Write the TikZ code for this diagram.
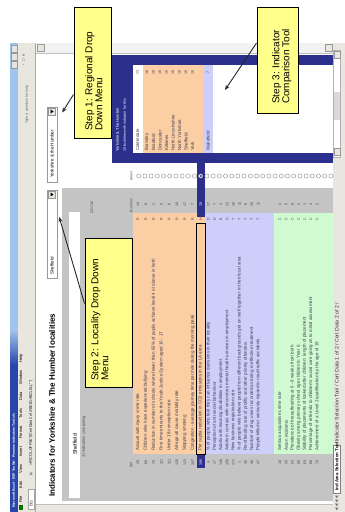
\documentclass[tikz,border=0pt]{standalone}
\usepackage{fontspec}
\setmainfont{Liberation Sans}
\usetikzlibrary{arrows.meta}
\definecolor{navy}{RGB}{44,48,140}
\definecolor{peach}{RGB}{252,206,164}
\definecolor{lav}{RGB}{206,206,250}
\definecolor{mint}{RGB}{208,250,208}
\definecolor{panelgray}{RGB}{196,196,196}
\definecolor{sticky}{RGB}{255,255,140}
\definecolor{uigray}{RGB}{232,230,222}
\definecolor{xltext}{RGB}{60,60,80}
\definecolor{titledark}{RGB}{40,70,170}
\definecolor{titlelight}{RGB}{160,195,235}
\begin{document}
\begin{tikzpicture}[x=1pt,y=-1pt,
  rt/.style={rotate=90,anchor=west,inner sep=0pt,text=xltext,font=\fontsize{4.5}{5}\selectfont},
  tiny/.style={rt,font=\fontsize{3.6}{4}\selectfont},
  stickybox/.style={draw=black,line width=1pt,fill=sticky,inner sep=0pt},
  stickytext/.style={rotate=90,anchor=north west,inner sep=0pt,align=left,font=\fontsize{10}{10}\selectfont},
  pointer/.style={draw=black!85,line width=0.9pt,-{Stealth[length=5pt,width=4pt]}},
  dropbox/.style={draw=black!40,fill=white,inner sep=0pt},
  btn/.style={draw=black!40,fill=uigray,inner sep=0pt,minimum width=7pt,minimum height=7pt},
]
\useasboundingbox (0,0) rectangle (345,512);
\fill[white] (0,0) rectangle (345,512);

% ---------- window chrome ----------
\fill[uigray] (10,43) rectangle (36,512);
\fill[titlelight] (10,43) rectangle (17.5,330);
\shade[top color=titlelight,bottom color=titledark] (10,330) rectangle (17.5,365);
\fill[titledark] (10,365) rectangle (17.5,512);
\foreach \yy [count=\i] in {49,57,65}
  \node[btn,minimum width=6pt,minimum height=7pt,fill=black!10] (wb\i) at (13.7,\yy) {};
\node[tiny,text=white,font=\bfseries\fontsize{3.4}{4}\selectfont] (ttl) at (13.7,508) {Microsoft Excel - ESP Toolkit - Pennine Indicators Tool.xls};
\fill[green!45!black] (18.5,505) rectangle (23,510);
\node[rt,text=black,font=\fontsize{4}{4}\selectfont] (menu) at (21,503)
  {File\hspace{8pt}Edit\hspace{8pt}View\hspace{8pt}Insert\hspace{8pt}Format\hspace{8pt}Tools\hspace{8pt}Data\hspace{8pt}Window\hspace{8pt}Help};
\node[tiny,text=black!60] (help) at (27,124) {Type a question for help};
\node[tiny,text=black] (ctl) at (23.5,66) {-\hspace{3pt}□\hspace{3pt}x};
\fill[white] (28,489) rectangle (34,509);
\draw[black!35] (28,489) rectangle (34,509);
\node[tiny,text=black] (namebox) at (31,507) {D21};
\node[tiny,text=black] (fx) at (31,476) {\textit{fx}};
\node[tiny,text=black] (formula) at (31,466) {=IF(COL,OFFSET(Cert Data 2 of 2!\$E\$1:A\$21,0L),"")};
\draw[black!35] (35.5,43) -- (35.5,512);

% top strip (scroll bar)
\fill[black!5] (36,43) rectangle (333,53);
\draw[black!25] (36,53) -- (333,53);
\node[btn] (sa1) at (40.5,48) {};
\node[btn] (sa2) at (328.5,48) {};
% right strip (scroll bar + sheet tabs)
\fill[uigray] (333,43) rectangle (345,512);
\fill[white] (333.5,50) rectangle (340,157);
\draw[black!30] (333.5,50) rectangle (340,157);
\node[btn,minimum width=6pt] (sb1) at (336.7,55) {};
\node[btn,minimum width=6pt] (sb2) at (336.7,152) {};
\fill[black!15] (334,92) rectangle (339.5,120);
\foreach \yy [count=\i] in {497,501,505,509}
  \fill[black!55] (335,\yy-1.5) -- (338.5,\yy-1.5) -- (336.75,\yy+1.2) -- cycle;
\fill[white] (333.3,445) rectangle (340,493);
\draw[black!50] (333.3,445) rectangle (340,493);
\node[rt,text=black,font=\bfseries\fontsize{4.4}{5}\selectfont] (tab1) at (336.7,491) {Ind Area Selection Tool};
\node[rt,text=black!80,font=\fontsize{5.2}{6}\selectfont] (tab2) at (336.7,442) {Indicator Selection Tool / Cert Data 1 of 2 / Cert Data 2 of 2 /};
% bottom strip
\fill[uigray] (36,504) rectangle (333,512);
\draw[black!25] (36,504) -- (333,504);

% ---------- sheet content ----------
\node[rt,text=black,font=\bfseries\fontsize{8}{9}\selectfont] (title) at (52,497) {Indicators for Yorkshire \& The Humber localities};

% regional drop down
\node[dropbox,minimum width=10pt,minimum height=75pt] (rd) at (52,144.5) {};
\node[btn] (rdb) at (52,111.5) {};
\fill[black] (50.6,109.6) -- (50.6,113.4) -- (53.6,111.5) -- cycle;
\node[rt,text=black] (rdt) at (52,178) {Yorkshire \& the Humber};
% locality drop down
\node[dropbox,minimum width=10pt,minimum height=88pt] (ld) at (52,234) {};
\node[btn] (ldb) at (52,194.5) {};
\fill[black] (50.6,192.6) -- (50.6,196.4) -- (53.6,194.5) -- cycle;
\node[rt,text=black] (ldt) at (52,275) {Sheffield};

% indicator comparison tool (blue panel)
\fill[navy] (112,55) rectangle (333,163);
\fill[white] (133,65) rectangle (333,153);
\fill[peach] (143,65) rectangle (203,153);
\fill[lav] (203,65) rectangle (213,153);
\node[rt,text=white,font=\fontsize{4}{5}\selectfont] (bh1) at (117.5,152) {Yorkshire \& The Humber};
\node[rt,text=white,font=\fontsize{3.6}{5}\selectfont] (bh2) at (124.5,152) {18 localities with indicator for this};
\foreach \nm/\xx/\vv [count=\i] in {Calderdale/137.5/13,Barnsley/147/18,Bradford/153.5/18,Doncaster/160/18,Kirklees/166.5/18,North Lincolnshire/173/18,North Yorkshire/179.5/18,Sheffield/186/18,York/192.5/18,Wakefield/208/7}
{
  \node[rt] (bl\i) at (\xx,151) {\nm};
  \node[tiny,anchor=center] (bv\i) at (\xx,72) {\vv};
}
\fill[navy] (197,163) rectangle (205,217);

% radio buttons
\node[tiny,text=black!70] (sel) at (131,181) {select};
\foreach \k in {0,...,31}
  \draw[black!45,fill=white] ({138.7+6.2*\k},176) circle[radius=2.1pt];
\fill[navy] (200.7,176) circle[radius=1.1pt];

% locality panel
\fill[panelgray] (62,188) rectangle (333,501);
\fill[peach] (133,213) rectangle (205,454);
\fill[lav] (205,213) rectangle (274,454);
\fill[mint] (274,213) rectangle (333,454);
\fill[navy] (197,188) rectangle (205,217);
\fill[white] (69,212) rectangle (80,498);
\node[rt,text=black,font=\fontsize{5.4}{6}\selectfont] (shf) at (75,455) {Sheffield};
\node[tiny,text=black!75,font=\fontsize{3.8}{4}\selectfont] (cmp) at (84,458) {31 indicators, comparing};
\node[tiny,text=black!70] (code) at (92,214) {031748};
\node[tiny,text=black!70] (hloc) at (131,213) {localities};
\node[tiny,text=black!70] (href) at (131,468) {Ref};

\foreach \txt/\ni/\lt/\lc [count=\i] in {
  Assault with injury crime rate/20/R/14,
  Children who have experienced bullying/69/R/8,
  Reduction in number of schools where fewer than 65\% of pupils achieve level 4 or above in both/76/R/1,
  First time entrants to the Youth Justice System aged 10 - 17/111/R/5,
  Under 18 conception rate/112/R/6,
  All-age all cause mortality rate/120/R/10,
  Stopping smoking/123/R/17,
  Congestion - average journey time per mile during the morning peak/167/R/7}
{
  \pgfmathsetmacro\xx{138+7.8*(\i-1)}
  \node[rt] (ot\i) at (\xx,451) {\txt};
  \node[tiny,anchor=center] (on\i) at (\xx,462) {\ni};
  \node[tiny,anchor=center] (ol\i) at (\xx,219) {\lt};
  \node[tiny,anchor=center] (oc\i) at (\xx,204) {\lc};
}
% selected row
\draw[black,line width=0.8pt] (196.5,223) rectangle (205,454);
\node[rt] (ot9) at (200.4,451) {Per capita reduction in CO2 emissions in the LA area};
\fill[navy] (196.5,455) rectangle (205,468);
\node[tiny,anchor=center,text=white] (on9) at (200.7,462) {186};
\node[tiny,anchor=center] (ol9) at (200.7,219) {H};
\node[tiny,anchor=center,text=white] (oc9) at (200.7,204) {18};

\foreach \txt/\ni/\lt/\lc [count=\i] in {
  \% of people who feel they can influence decisions in their locality/4/D/17,
  Perception of anti-social behaviour/17/D/7,
  Adults with learning disabilities in employment/146/B/4,
  Adults in contact with secondary mental health services in employment/150/D/13,
  New business registration rate/171/T/15,
  \% of people who believe people from different backgrounds get on well together in their local area/1/T/11,
  Re-offending rate of prolific and other priority offenders/30/T/8,
  Number of drug users recorded as being in effective treatment/40/T/16,
  People killed or seriously injured in road traffic accidents/47/T/11}
{
  \pgfmathsetmacro\xx{208.5+6.2*(\i-1)}
  \node[rt] (pt\i) at (\xx,451) {\txt};
  \node[tiny,anchor=center] (pn\i) at (\xx,462) {\ni};
  \node[tiny,anchor=center] (pl\i) at (\xx,219) {\lt};
  \node[tiny,anchor=center] (pc\i) at (\xx,204) {\lc};
}
\foreach \txt/\ni/\lt/\lc [count=\i] in {
  Serious acquisitive crime rate/16/C/3,
  Arson incidents/33/C/5,
  Prevalence of breastfeeding at 6 - 8 weeks from birth/53/C/6,
  Obesity among primary school age children in Year 6/56/C/2,
  Stability of placements of looked after children: length of placement/63/C/1,
  Percentage of referrals to children's social care going on to initial assessment/68/C/4,
  Achievement of a Level 2 qualification by the age of 19/79/C/2}
{
  \pgfmathsetmacro\xx{280+6.2*(\i-1)}
  \node[rt] (gt\i) at (\xx,451) {\txt};
  \node[tiny,anchor=center] (gn\i) at (\xx,462) {\ni};
  \node[tiny,anchor=center] (gl\i) at (\xx,219) {\lt};
  \node[tiny,anchor=center] (gc\i) at (\xx,204) {\lc};
}

% ---------- sticky notes and pointers ----------
\node[stickybox,minimum width=37pt,minimum height=131pt] (st1) at (92.5,72.5) {};
\node[stickytext] (st1t) at (85,131) {Step 1: Regional Drop\\Down Menu};
\node[stickybox,minimum width=47pt,minimum height=149pt] (st2) at (108.5,312.5) {};
\node[stickytext] (st2t) at (91,381) {Step 2: Locality Drop Down\\Menu};
\node[stickybox,minimum width=41pt,minimum height=106pt] (st3) at (277.5,60) {};
\node[stickytext] (st3t) at (272,104) {Step 3: Indicator\\Comparison Tool};
\coordinate (c3) at (225,90);
\draw[pointer] ([yshift=-22pt]st1.west) -- ([xshift=5pt,yshift=32pt]rd.east);
\draw[pointer] ([yshift=9pt]st2.west) -- ([xshift=2pt,yshift=17pt]ld.east);
\draw[pointer] ([yshift=17pt]st3.west) -- (c3);
\end{tikzpicture}
\end{document}
